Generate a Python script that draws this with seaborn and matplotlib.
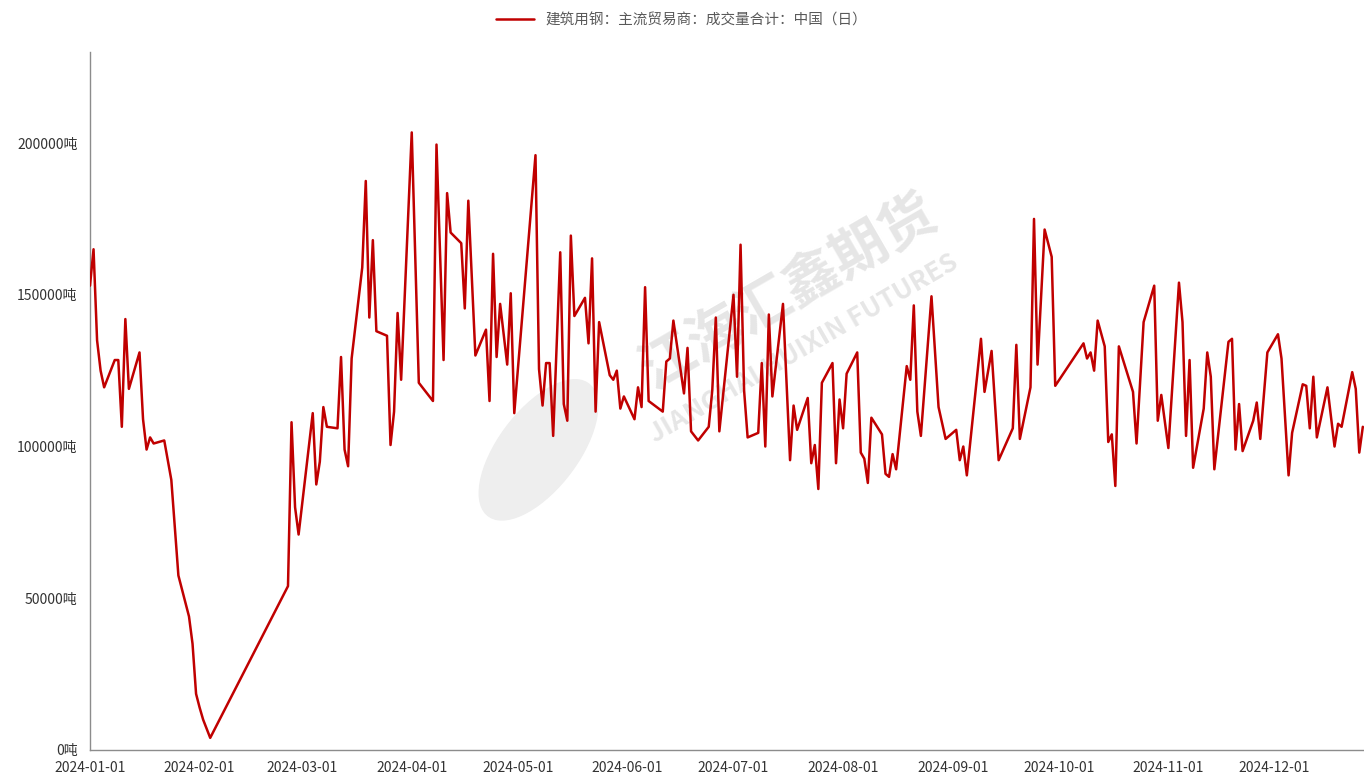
import pandas as pd
import seaborn as sns
import matplotlib.pyplot as plt
import matplotlib.dates as mdates
from matplotlib.patches import Ellipse

# data (trading days, tons)
dates = [
    "2024-01-01", "2024-01-02", "2024-01-03", "2024-01-04", "2024-01-05",
    "2024-01-08", "2024-01-09", "2024-01-10", "2024-01-11", "2024-01-12",
    "2024-01-15", "2024-01-16", "2024-01-17", "2024-01-18", "2024-01-19",
    "2024-01-22", "2024-01-24", "2024-01-26", "2024-01-29", "2024-01-30",
    "2024-01-31", "2024-02-01", "2024-02-02", "2024-02-04", "2024-02-26",
    "2024-02-27", "2024-02-28", "2024-02-29", "2024-03-04", "2024-03-05",
    "2024-03-06", "2024-03-07", "2024-03-08", "2024-03-11", "2024-03-12",
    "2024-03-13", "2024-03-14", "2024-03-15", "2024-03-18", "2024-03-19",
    "2024-03-20", "2024-03-21", "2024-03-22", "2024-03-25", "2024-03-26",
    "2024-03-27", "2024-03-28", "2024-03-29", "2024-04-01", "2024-04-03",
    "2024-04-07", "2024-04-08", "2024-04-10", "2024-04-11", "2024-04-12",
    "2024-04-15", "2024-04-16", "2024-04-17", "2024-04-19", "2024-04-22",
    "2024-04-23", "2024-04-24", "2024-04-25", "2024-04-26", "2024-04-28",
    "2024-04-29", "2024-04-30", "2024-05-06", "2024-05-07", "2024-05-08",
    "2024-05-09", "2024-05-10", "2024-05-11", "2024-05-13", "2024-05-14",
    "2024-05-15", "2024-05-16", "2024-05-17", "2024-05-20", "2024-05-21",
    "2024-05-22", "2024-05-23", "2024-05-24", "2024-05-27", "2024-05-28",
    "2024-05-29", "2024-05-30", "2024-05-31", "2024-06-03", "2024-06-04",
    "2024-06-05", "2024-06-06", "2024-06-07", "2024-06-11", "2024-06-12",
    "2024-06-13", "2024-06-14", "2024-06-17", "2024-06-18", "2024-06-19",
    "2024-06-21", "2024-06-24", "2024-06-25", "2024-06-26", "2024-06-27",
    "2024-07-01", "2024-07-02", "2024-07-03", "2024-07-04", "2024-07-05",
    "2024-07-08", "2024-07-09", "2024-07-10", "2024-07-11", "2024-07-12",
    "2024-07-15", "2024-07-17", "2024-07-18", "2024-07-19", "2024-07-22",
    "2024-07-23", "2024-07-24", "2024-07-25", "2024-07-26", "2024-07-29",
    "2024-07-30", "2024-07-31", "2024-08-01", "2024-08-02", "2024-08-05",
    "2024-08-06", "2024-08-07", "2024-08-08", "2024-08-09", "2024-08-12",
    "2024-08-13", "2024-08-14", "2024-08-15", "2024-08-16", "2024-08-19",
    "2024-08-20", "2024-08-21", "2024-08-22", "2024-08-23", "2024-08-26",
    "2024-08-28", "2024-08-30", "2024-09-02", "2024-09-03", "2024-09-04",
    "2024-09-05", "2024-09-09", "2024-09-10", "2024-09-12", "2024-09-14",
    "2024-09-18", "2024-09-19", "2024-09-20", "2024-09-23", "2024-09-24",
    "2024-09-25", "2024-09-27", "2024-09-29", "2024-09-30", "2024-10-08",
    "2024-10-09", "2024-10-10", "2024-10-11", "2024-10-12", "2024-10-14",
    "2024-10-15", "2024-10-16", "2024-10-17", "2024-10-18", "2024-10-22",
    "2024-10-23", "2024-10-25", "2024-10-28", "2024-10-29", "2024-10-30",
    "2024-11-01", "2024-11-04", "2024-11-05", "2024-11-06", "2024-11-07",
    "2024-11-08", "2024-11-11", "2024-11-12", "2024-11-13", "2024-11-14",
    "2024-11-18", "2024-11-19", "2024-11-20", "2024-11-21", "2024-11-22",
    "2024-11-25", "2024-11-26", "2024-11-27", "2024-11-29", "2024-12-02",
    "2024-12-03", "2024-12-05", "2024-12-06", "2024-12-09", "2024-12-10",
    "2024-12-11", "2024-12-12", "2024-12-13", "2024-12-16", "2024-12-18",
    "2024-12-19", "2024-12-20", "2024-12-23", "2024-12-24", "2024-12-25",
    "2024-12-26",
]
volume = [
    153000, 165000, 135000, 125000, 119500,
    128500, 128500, 106500, 142000, 119000,
    131000, 109000, 99000, 103000, 101000,
    102000, 89000, 57500, 44000, 35000,
    18500, 14000, 10000, 4000, 54000,
    108000, 80000, 71000, 111000, 87500,
    95000, 113000, 106500, 106000, 129500,
    99000, 93500, 129000, 159000, 187500,
    142500, 168000, 138000, 136500, 100500,
    111500, 144000, 122000, 203500, 121000,
    115000, 199500, 128500, 183500, 170500,
    167000, 145500, 181000, 130000, 138500,
    115000, 163500, 129500, 147000, 127000,
    150500, 111000, 196000, 125500, 113500,
    127500, 127500, 103500, 164000, 114000,
    108500, 169500, 143000, 149000, 134000,
    162000, 111500, 141000, 123500, 122000,
    125000, 112500, 116500, 109000, 119500,
    113000, 152500, 115000, 111500, 128000,
    129000, 141500, 117500, 132500, 105000,
    102000, 106500, 118500, 142500, 105000,
    150000, 123000, 166500, 118500, 103000,
    104500, 127500, 100000, 143500, 116500,
    147000, 95500, 113500, 105500, 116000,
    94500, 100500, 86000, 121000, 127500,
    94500, 115500, 106000, 124000, 131000,
    98000, 96000, 88000, 109500, 104000,
    91000, 90000, 97500, 92500, 126500,
    122000, 146500, 111500, 103500, 149500,
    113000, 102500, 105500, 95500, 100000,
    90500, 135500, 118000, 131500, 95500,
    106000, 133500, 102500, 119500, 175000,
    127000, 171500, 162500, 120000, 134000,
    129000, 131000, 125000, 141500, 133000,
    101500, 104000, 87000, 133000, 118000,
    101000, 141000, 153000, 108500, 117000,
    99500, 154000, 141000, 103500, 128500,
    93000, 112500, 131000, 123000, 92500,
    134500, 135500, 99000, 114000, 98500,
    108500, 114500, 102500, 131000, 137000,
    129000, 90500, 104500, 120500, 120000,
    106000, 123000, 103000, 119500, 100000,
    107500, 106500, 124500, 119000, 98000,
    106500,
]
y_ticks = [0, 50000, 100000, 150000, 200000]
series_name = "建筑用钢：主流贸易商：成交量合计：中国（日）"

df = pd.DataFrame({"date": pd.to_datetime(dates), "volume": volume})

sns.set_theme(style="white")
plt.rcParams["font.family"] = ["Noto Sans CJK SC", "DejaVu Sans"]

fig = plt.figure(figsize=(13.64, 7.8), dpi=100)
ax = fig.add_axes([90 / 1364, 30 / 780, 1274 / 1364, 698 / 780])

# watermark
ax.add_patch(Ellipse((0.352, 0.43), 0.07, 0.21, angle=-18, transform=ax.transAxes,
                     color="#eeeeee", zorder=0))
ax.text(0.548, 0.655, "江海汇鑫期货", transform=ax.transAxes, fontsize=40,
        color="#e6e6e6", rotation=30, ha="center", va="center", zorder=0,
        fontweight="bold")
ax.text(0.56, 0.575, "JIANGHAI HUIXIN FUTURES", transform=ax.transAxes,
        fontsize=19, color="#e6e6e6", rotation=30, ha="center", va="center",
        zorder=0, fontweight="bold")

sns.lineplot(data=df, x="date", y="volume", ax=ax, color="#C00000",
             linewidth=1.8, label=series_name, zorder=3)

ax.set_xlim(pd.Timestamp("2024-01-01"), pd.Timestamp("2024-12-26 08:00"))
ax.set_ylim(0, 230000)
ax.set_yticks(y_ticks)
ax.set_yticklabels([f"{v}吨" for v in y_ticks])
ax.xaxis.set_major_locator(mdates.MonthLocator())
ax.xaxis.set_major_formatter(mdates.DateFormatter("%Y-%m-%d"))
ax.set_xlabel("")
ax.set_ylabel("")

for side in ["top", "right"]:
    ax.spines[side].set_visible(False)
for side in ["left", "bottom"]:
    ax.spines[side].set_color("#8c8c8c")
    ax.spines[side].set_linewidth(1.0)
ax.tick_params(axis="both", which="major", length=5, width=1, color="#8c8c8c",
               labelsize=10, labelcolor="#333333", pad=4)
ax.tick_params(axis="x", pad=3)

ax.legend(loc="upper center", bbox_to_anchor=(0.5, 1.0), bbox_transform=fig.transFigure,
          frameon=False, fontsize=10.5, handlelength=2.6, labelcolor="#595959")

fig.savefig("out.png", dpi=100)
